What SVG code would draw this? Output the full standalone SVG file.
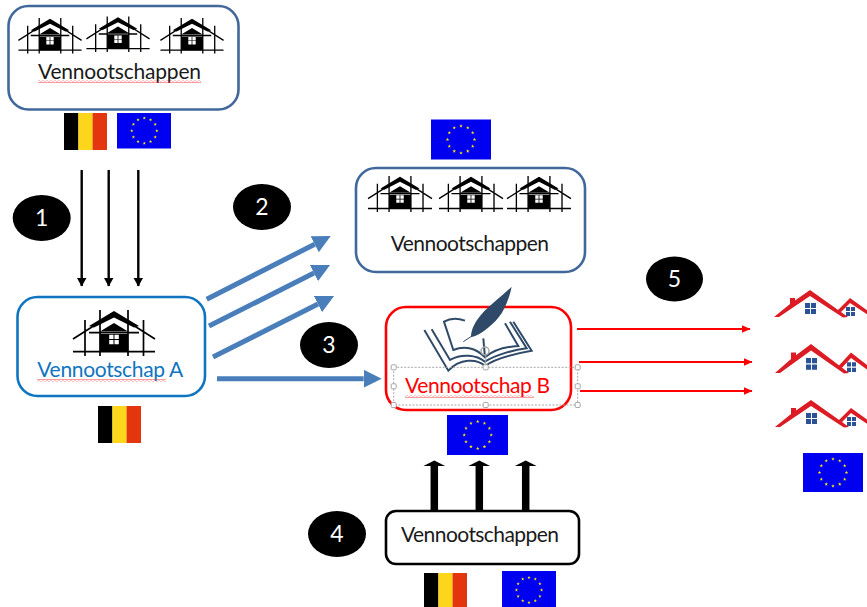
<svg xmlns="http://www.w3.org/2000/svg" xmlns:xlink="http://www.w3.org/1999/xlink" width="867" height="607" viewBox="0 0 867 607">
<style>
.box{fill:#fff;stroke-width:2.6}
.lbl{font-family:"Lato","Liberation Sans",sans-serif;font-size:21px;fill:#1a1a1a}
.num{font-family:"Lato","Liberation Sans",sans-serif;font-size:23px;fill:#fff;text-anchor:middle}
.blk{fill:none;stroke:#000;stroke-width:2.4}
.blu{fill:none;stroke:#4a7ebb;stroke-width:5}
.red{fill:none;stroke:#f00;stroke-width:2.2}
.up{fill:none;stroke:#000;stroke-width:7.5}
.h{fill:#fff;stroke:#a6a6a6;stroke-width:1}
.pg{fill:none;stroke:#2f4a68;stroke-width:6}
</style>
<defs>
<marker id="mb" viewBox="0 0 9 10" refX="8.500" refY="5" markerWidth="9" markerHeight="10" markerUnits="userSpaceOnUse" orient="auto"><path d="M0 0L9 5L0 10z" fill="#000"/></marker>
<marker id="mu" viewBox="0 0 3.6 3.6" refX="0" refY="1.8" markerWidth="3.6" markerHeight="3.6" orient="auto"><path d="M0 0L3.6 1.8L0 3.6z" fill="#4a7ebb"/></marker>
<marker id="mr" viewBox="0 0 9 8" refX="8.500" refY="4" markerWidth="9" markerHeight="8" markerUnits="userSpaceOnUse" orient="auto"><path d="M0 0L9 4L0 8z" fill="#f00"/></marker>
<marker id="mk" viewBox="0 0 1 3" refX="0" refY="1.5" markerWidth="1" markerHeight="3" orient="auto"><path d="M0 .05L.75 1.5L0 2.95z" fill="#000"/></marker>
<pattern id="wave" width="4" height="3" patternUnits="userSpaceOnUse"><path d="M0 1.5Q1 0 2 1.5T4 1.5" fill="none" stroke="#f0393f" stroke-width=".8"/></pattern>
<polygon id="s" fill="#ffed00" points="0,-1.9 .45,-.6 1.8,-.6 .7,.25 1.1,1.55 0,.75 -1.1,1.55 -.7,.25 -1.8,-.6 -.45,-.6"/>
<g id="stars">
<use href="#s" x="0" y="-13.5"/><use href="#s" x="6.75" y="-11.7"/><use href="#s" x="11.7" y="-6.75"/><use href="#s" x="13.5" y="0"/><use href="#s" x="11.7" y="6.75"/><use href="#s" x="6.75" y="11.7"/><use href="#s" x="0" y="13.5"/><use href="#s" x="-6.75" y="11.7"/><use href="#s" x="-11.7" y="6.75"/><use href="#s" x="-13.5" y="0"/><use href="#s" x="-11.7" y="-6.75"/><use href="#s" x="-6.75" y="-11.7"/>
</g>
<g id="be"><rect width="14.5" height="37" fill="#000"/><rect x="14.3" width="14.5" height="37" fill="#fdd61c"/><rect x="28.6" width="14.4" height="37" fill="#e3350e"/></g>
<g id="house">
<path d="M-41 41.7H41M-29 10V46M29.5 10V46M-14 0V46M14 0V46M-41 29L0 3L41 29M-25 22.7H25" fill="none" stroke="#000" stroke-width="1.7"/>
<path d="M-25 16L0 1L25 16L20 17.5L0 7.5L-20 17.5z" fill="#000"/>
<path d="M-14 21.5L0 13L14 21.5zM-14 24H14V42H-14z" fill="#000"/>
<path d="M-4.8 24.8h4.3v4.3h-4.3zM.5 24.8h4.3v4.3h-4.3zM-4.8 30h4.3v4.3h-4.3zM.5 30h4.3v4.3h-4.3z" fill="#fff"/>
</g>
<g id="roof">
<path d="M-36 26L-20 13V7H-15V9.500L0 -1L38 26L33 26.500L0 5L-31 26z" fill="#dc1c24"/>
<path d="M-5 12h5v5h-5zM1 12h5v5h-5zM-5 18h5v5h-5zM1 18h5v5h-5z" fill="#2b5296"/>
<path d="M27 20L40 7L58 20V24L40 12L31 21z" fill="#dc1c24"/>
<path d="M36 16h4v4h-4zM41 16h4v4h-4zM36 21h4v4h-4zM41 21h4v4h-4z" fill="#2b5296"/>
</g>
</defs>
<rect width="867" height="607" fill="#fff"/>

<g id="connectors">
<path class="blk" marker-end="url(#mb)" d="M81.700 170V286"/>
<path class="blk" marker-end="url(#mb)" d="M108.700 170V286"/>
<path class="blk" marker-end="url(#mb)" d="M138.300 170V286"/>
<path class="blu" marker-end="url(#mu)" d="M206.700 299.300L314.700 244.200"/>
<path class="blu" marker-end="url(#mu)" d="M209 326L314 273.100"/>
<path class="blu" marker-end="url(#mu)" d="M213 357L318 304.100"/>
<path class="blu" marker-end="url(#mu)" d="M217 378.700H363.700"/>
<path class="red" marker-end="url(#mr)" d="M577 329H750"/>
<path class="red" marker-end="url(#mr)" d="M579 362H752"/>
<path class="red" marker-end="url(#mr)" d="M580 391H752"/>
<path class="up" marker-end="url(#mk)" d="M434.300 511V466"/>
<path class="up" marker-end="url(#mk)" d="M479.300 511V466"/>
<path class="up" marker-end="url(#mk)" d="M525.700 511V466"/>
</g>

<g id="node-top">
<rect class="box" x="8.500" y="6" width="230" height="103.500" rx="20" stroke="#41689a"/>
<use href="#house" transform="translate(50 18) scale(.77)"/>
<use href="#house" transform="translate(118 16.500) scale(.77)"/>
<use href="#house" transform="translate(192 18) scale(.77)"/>
<text class="lbl" x="38" y="79" textLength="163">Vennootschappen</text>
<rect x="38" y="80" width="163" height="3" fill="url(#wave)"/>
<use href="#be" transform="translate(64 113)"/>
<rect x="117" y="113" width="54" height="35.500" fill="#0000f0"/>
<use href="#stars" transform="translate(144.300 130.700) scale(.93)"/>
</g>

<g id="node-eu">
<rect x="431" y="119.500" width="60" height="40" fill="#0000f0"/>
<use href="#stars" transform="translate(461 139.500)"/>
<rect class="box" x="356" y="168" width="229" height="104" rx="20" stroke="#41689a"/>
<use href="#house" transform="translate(400 176) scale(.78)"/>
<use href="#house" transform="translate(471 176) scale(.78)"/>
<use href="#house" transform="translate(539 176) scale(.78)"/>
<text class="lbl" x="390.700" y="251" textLength="158.300">Vennootschappen</text>
</g>

<g id="node-a">
<rect class="box" x="17.500" y="297" width="187.500" height="99" rx="20" stroke="#0f75c0"/>
<use href="#house" transform="translate(114 310)"/>
<text class="lbl" style="fill:#0f75c0" x="37.300" y="377" textLength="146">Vennootschap A</text>
<rect x="37" y="379" width="129" height="3" fill="url(#wave)"/>
<use href="#be" transform="translate(98 406)"/>
</g>

<g id="node-b">
<rect class="box" x="386" y="307" width="185" height="103" rx="20" stroke="#f00"/>
<g transform="translate(370 280) scale(.3333)">
<path class="pg" d="M163 150L235 272C270 235 320 235 345 258C375 235 430 222 485 212L430 125"/>
<path class="pg" d="M185 148L240 240C275 220 320 225 345 245C375 225 430 210 470 205L420 125"/>
<path class="pg" d="M285 122C265 115 240 115 222 125L250 210C285 195 320 205 345 232C370 210 410 200 445 198L405 130"/>
<path class="pg" d="M340 175L345 232"/>
<path d="M425 20C400 45 345 85 325 115C310 135 303 155 303 172C335 165 375 130 395 100C410 75 420 45 425 20z" fill="#2f4a68"/>
<path d="M303 170L280 185" stroke="#2f4a68" stroke-width="3"/>
</g>
<rect x="393.700" y="367.300" width="184" height="37.700" fill="none" stroke="#a6a6a6" stroke-width="1" stroke-dasharray="2 1.500"/>
<path d="M485.700 355V367" stroke="#a6a6a6"/>
<circle cx="485" cy="351" r="4" fill="none" stroke="#a6a6a6" stroke-width="1.500"/>
<rect class="h" x="391.200" y="364.800" width="5" height="5" rx="1"/><rect class="h" x="483.200" y="364.800" width="5" height="5" rx="1"/><rect class="h" x="575.200" y="364.800" width="5" height="5" rx="1"/>
<rect class="h" x="391.200" y="383.800" width="5" height="5" rx="1"/><rect class="h" x="575.200" y="383.800" width="5" height="5" rx="1"/>
<rect class="h" x="391.200" y="402.500" width="5" height="5" rx="1"/><rect class="h" x="483.200" y="402.500" width="5" height="5" rx="1"/><rect class="h" x="575.200" y="402.500" width="5" height="5" rx="1"/>
<text class="lbl" style="fill:#f00" x="405" y="393" textLength="145">Vennootschap B</text>
<rect x="405" y="395" width="129" height="3" fill="url(#wave)"/>
<rect x="447" y="415" width="61" height="40" fill="#0000f0"/>
<use href="#stars" transform="translate(477.700 435)"/>
</g>

<g id="node-bottom">
<rect class="box" x="386" y="511" width="193" height="53" rx="10" stroke="#000"/>
<text class="lbl" x="401" y="541.700" textLength="158">Vennootschappen</text>
<use href="#be" transform="translate(424 573)"/>
<rect x="502" y="571" width="54" height="36" fill="#0000f0"/>
<use href="#stars" transform="translate(529 590) scale(.93)"/>
</g>

<g id="node-homes">
<use href="#roof" transform="translate(810 291)"/>
<use href="#roof" transform="translate(811 345) scale(1 1.08)"/>
<use href="#roof" transform="translate(811 401)"/>
<rect x="803" y="453" width="60" height="39" fill="#0000f0"/>
<use href="#stars" transform="translate(833 472.500)"/>
</g>

<g id="badge-1"><ellipse cx="41.700" cy="218" rx="29" ry="23"/><text class="num" x="41.700" y="226">1</text></g>
<g id="badge-2"><ellipse cx="262" cy="207" rx="29" ry="23"/><text class="num" x="262" y="215">2</text></g>
<g id="badge-3"><ellipse cx="329" cy="345" rx="29" ry="23"/><text class="num" x="329" y="353">3</text></g>
<g id="badge-4"><ellipse cx="337" cy="534" rx="29" ry="23"/><text class="num" x="337" y="542">4</text></g>
<g id="badge-5"><ellipse cx="674.500" cy="279" rx="28.500" ry="22.500"/><text class="num" x="674.500" y="287">5</text></g>
</svg>
